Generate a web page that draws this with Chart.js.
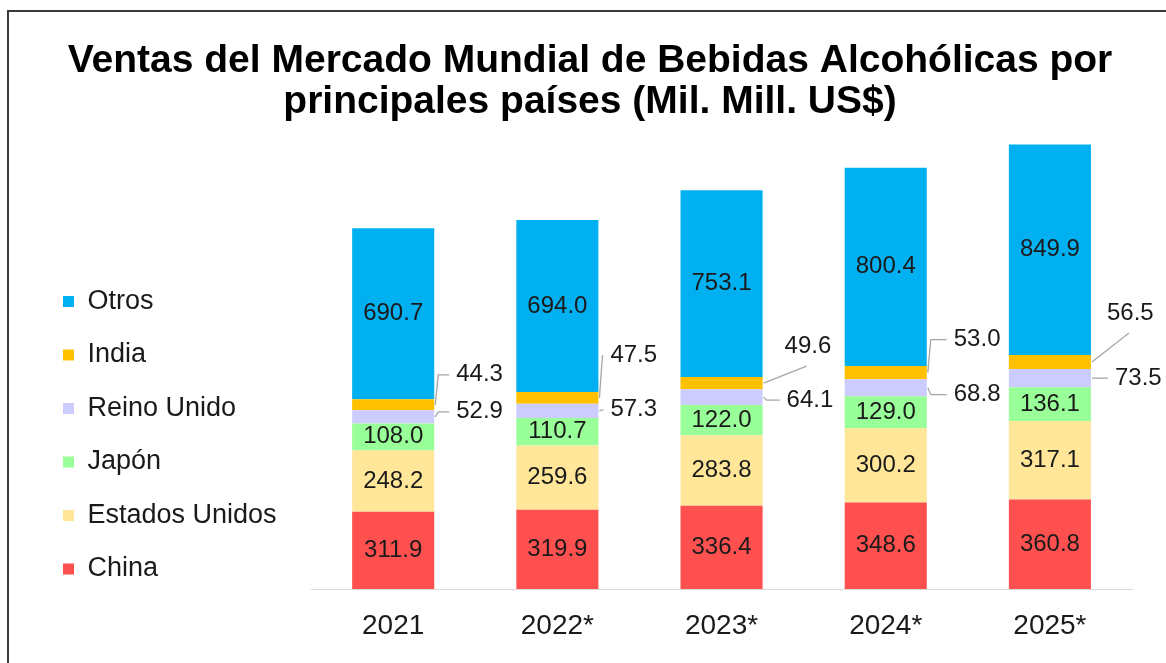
<!DOCTYPE html>
<html>
<head>
<meta charset="utf-8">
<script src="https://cdn.jsdelivr.net/npm/chart.js@4"></script>
<style>
    html, body { margin: 0; padding: 0; background: #fff; }
    body { width: 1166px; height: 663px; position: relative; overflow: hidden; }
    .frame {
        position: absolute;
        left: 7px;
        top: 10px;
        width: 1300px;
        height: 800px;
        border-top: 2px solid #3a3a3a;
        border-left: 2px solid #3a3a3a;
    }
    .wrap { position: absolute; left: 0; top: 0; width: 1166px; height: 663px; }
</style>
</head>
<body>
<div class="frame"></div>
<div class="wrap"><canvas id="ventasChart"></canvas></div>
<script>
const years = ['2021', '2022*', '2023*', '2024*', '2025*'];
const china = [311.9, 319.9, 336.4, 348.6, 360.8];
const estadosUnidos = [248.2, 259.6, 283.8, 300.2, 317.1];
const japon = [108.0, 110.7, 122.0, 129.0, 136.1];
const reinoUnido = [52.9, 57.3, 64.1, 68.8, 73.5];
const india = [44.3, 47.5, 49.6, 53.0, 56.5];
const otros = [690.7, 694.0, 753.1, 800.4, 849.9];

Chart.defaults.font.family = "'Liberation Sans', Arial, sans-serif";
Chart.defaults.color = '#000';

// etiquetas pequeñas fuera de la barra (dx/dy desde el borde derecho y el centro del tramo)
const outsideLabels = {
    'India': [
        { dx: 22, dy: -30, leader: 'elbow' },
        { dx: 12, dy: -42, leader: 'elbow' },
        { dx: 22, dy: -37, leader: 'diag' },
        { dx: 27, dy: -33, leader: 'elbow' },
        { dx: 16, dy: -49, leader: 'diag' },
    ],
    'Reino Unido': [
        { dx: 22, dy: -5, leader: 'elbow' },
        { dx: 12, dy: -1, leader: 'elbow' },
        { dx: 24, dy: 3, leader: 'elbow' },
        { dx: 27, dy: 7, leader: 'elbow' },
        { dx: 24, dy: 0, leader: 'elbow' },
    ],
};

const valueLabels = {
    id: 'valueLabels',
    afterDatasetsDraw(chart) {
        const ctx = chart.ctx;
        ctx.save();
        ctx.font = "24px 'Liberation Sans', Arial, sans-serif";
        ctx.fillStyle = '#1a1a1a';
        ctx.textBaseline = 'middle';
        chart.data.datasets.forEach((ds, i) => {
            const meta = chart.getDatasetMeta(i);
            meta.data.forEach((bar, j) => {
                const text = ds.data[j].toFixed(1);
                const mid = (bar.y + bar.base) / 2;
                const out = outsideLabels[ds.label];
                if (!out) {
                    ctx.textAlign = 'center';
                    ctx.fillText(text, bar.x, mid);
                    return;
                }
                const o = out[j];
                const right = bar.x + bar.width / 2;
                const lx = right + o.dx;
                const ly = mid + o.dy;
                ctx.strokeStyle = '#a6a6a6';
                ctx.lineWidth = 1.3;
                ctx.beginPath();
                ctx.moveTo(right + 1, mid);
                if (o.leader === 'diag') {
                    ctx.lineTo(lx + 22, ly + 20);
                } else {
                    ctx.lineTo(right + 4, ly);
                    ctx.lineTo(lx - 7, ly);
                }
                ctx.stroke();
                ctx.textAlign = 'left';
                ctx.fillText(text, lx, ly);
            });
        });
        ctx.restore();
    },
};

const makeSet = (label, data, color) => ({
    label: label,
    data: data,
    backgroundColor: color,
    borderWidth: 0,
    barPercentage: 0.5,
    categoryPercentage: 1.0,
});

new Chart(document.getElementById('ventasChart'), {
    type: 'bar',
    data: {
        labels: years,
        datasets: [
            makeSet('China', china, '#FF5050'),
            makeSet('Estados Unidos', estadosUnidos, '#FFE699'),
            makeSet('Japón', japon, '#99FF99'),
            makeSet('Reino Unido', reinoUnido, '#CCCCFF'),
            makeSet('India', india, '#FFC000'),
            makeSet('Otros', otros, '#00B0F0'),
        ],
    },
    options: {
        responsive: true,
        maintainAspectRatio: false,
        animation: false,
        layout: {
            padding: { top: 10, left: 36.5, right: 22.5, bottom: 22 },
        },
        scales: {
            x: {
                stacked: true,
                grid: { display: false, drawTicks: false },
                border: { display: true, color: '#d9d9d9', width: 1 },
                ticks: { font: { size: 28 }, color: '#1a1a1a', padding: 20, maxRotation: 0, minRotation: 0 },
                afterFit: (s) => { s.height = 52; },
            },
            y: {
                stacked: true,
                min: 0,
                max: 1800,
                grid: { display: false, drawTicks: false },
                border: { display: false },
                ticks: { display: false },
                afterFit: (s) => { s.width = 24.5; },
            },
            yR: {
                position: 'right',
                grid: { display: false, drawTicks: false },
                border: { display: false },
                ticks: { display: false },
                afterFit: (s) => { s.width = 11.5; },
            },
        },
        plugins: {
            title: {
                display: true,
                text: ['Ventas del Mercado Mundial de Bebidas Alcohólicas por', 'principales países (Mil. Mill. US$)'],
                color: '#000',
                font: { size: 39, weight: 'bold', lineHeight: 1.05 },
                padding: { top: 31, bottom: 20 },
            },
            legend: {
                position: 'left',
                align: 'start',
                reverse: true,
                maxWidth: 320,
                title: {
                    display: true,
                    text: ' ',
                    font: { size: 10, lineHeight: 1 },
                    padding: { top: 241.5, bottom: 0 },
                },
                labels: {
                    boxWidth: 11,
                    boxHeight: 11,
                    padding: 26.5,
                    color: '#1a1a1a',
                    font: { size: 27 },
                },
            },
            tooltip: { enabled: false },
        },
    },
    plugins: [valueLabels],
});
</script>
</body>
</html>
